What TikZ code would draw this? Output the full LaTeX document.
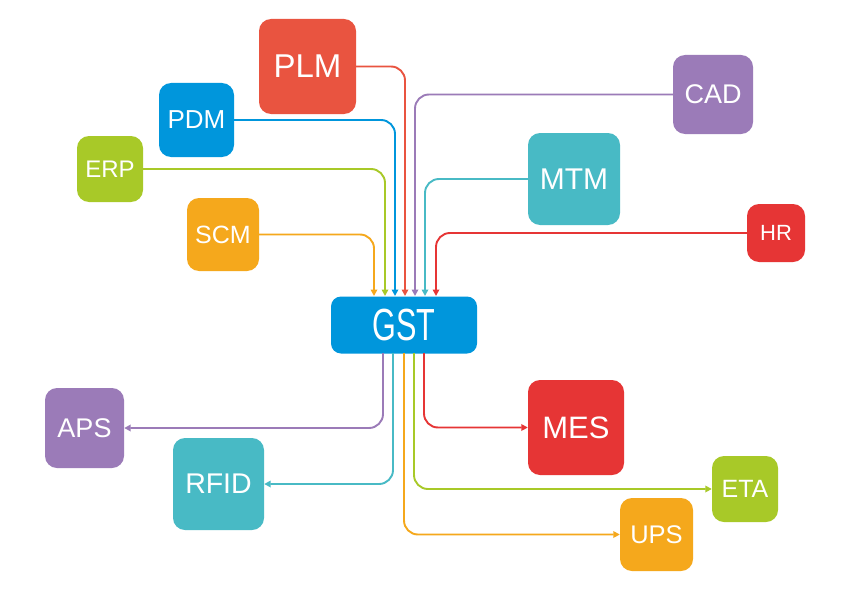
\documentclass[tikz,border=0pt]{standalone}
\usepackage{fontspec}
\setmainfont{Liberation Sans}
\usetikzlibrary{arrows.meta}
\definecolor{cplm}{HTML}{E95440}
\definecolor{cblue}{HTML}{0096DC}
\definecolor{cgreen}{HTML}{A8C928}
\definecolor{corange}{HTML}{F5A81C}
\definecolor{cpurple}{HTML}{9B7BB8}
\definecolor{cteal}{HTML}{48BAC5}
\definecolor{cred}{HTML}{E63535}
\tikzset{
  sys/.style={rounded corners=12pt, text=white, inner sep=0pt, anchor=center},
  conn/.style={line width=1.9pt, rounded corners=14pt, -{Triangle[length=6.5pt,width=6.5pt]}}
}
\newcommand{\sysbox}[7]{% name, cx, cy, w, h, colour, text+size
  \node[sys, fill=#6, minimum width=#4pt, minimum height=#5pt] (#1) at (#2,#3) {#7};}
\begin{document}
\begin{tikzpicture}[x=1pt,y=-1pt]
\useasboundingbox (0,0) rectangle (842,591);
\fill[white] (0,0) rectangle (842,591);

% boxes
\sysbox{PLM}{307.5}{66.5}{97}{95}{cplm}{\fontsize{33}{33}\selectfont PLM}
\sysbox{PDM}{196.5}{120}{75}{74}{cblue}{\fontsize{26}{26}\selectfont PDM}
\sysbox{ERP}{110}{169}{66}{66}{cgreen}{\fontsize{24}{24}\selectfont ERP}
\sysbox{SCM}{223}{234.5}{72}{73}{corange}{\fontsize{25}{25}\selectfont SCM}
\sysbox{CAD}{713}{94.5}{80}{79}{cpurple}{\fontsize{27}{27}\selectfont CAD}
\sysbox{MTM}{574}{179}{92}{92}{cteal}{\fontsize{30}{30}\selectfont MTM}
\sysbox{HR}{776}{233}{58}{58}{cred}{\fontsize{22}{22}\selectfont HR}
\sysbox{APS}{84.5}{428}{79}{80}{cpurple}{\fontsize{27}{27}\selectfont APS}
\sysbox{RFID}{218.5}{484}{91}{92}{cteal}{\fontsize{28.5}{28.5}\selectfont RFID}
\sysbox{MES}{576}{427.5}{96}{95}{cred}{\fontsize{31}{31}\selectfont MES}
\sysbox{ETA}{745}{489}{66}{66}{cgreen}{\fontsize{25}{25}\selectfont ETA}
\sysbox{UPS}{656.5}{534.5}{73}{73}{corange}{\fontsize{25.5}{25.5}\selectfont UPS}

\node[fill=cblue, rounded corners=10pt, minimum width=146pt, minimum height=57pt, inner sep=0pt, text=white] (GST) at (404,325)
  {\scalebox{0.68}[1]{\fontsize{45}{45}\selectfont GST}};

% entry points on GST top
\coordinate (iSCM) at (374,296);
\coordinate (iERP) at (385,296);
\coordinate (iPDM) at (395,296);
\coordinate (iPLM) at (405,296);
\coordinate (iCAD) at (415,296);
\coordinate (iMTM) at (425,296);
\coordinate (iHR)  at (436,296);
% exit points on GST bottom
\coordinate (oAPS)  at (383,353);
\coordinate (oRFID) at (393,353);
\coordinate (oUPS)  at (404,353);
\coordinate (oETA)  at (414,353);
\coordinate (oMES)  at (424,353);

% incoming
\draw[conn, cplm]    (PLM.east) -| (iPLM);
\draw[conn, cblue]   (PDM.east) -| (iPDM);
\draw[conn, cgreen]  (ERP.east) -| (iERP);
\draw[conn, corange] (SCM.east) -| (iSCM);
\draw[conn, cpurple] (CAD.west) -| (iCAD);
\draw[conn, cteal]   (MTM.west) -| (iMTM);
\draw[conn, cred]    (HR.west)  -| (iHR);

% outgoing
\draw[conn, cpurple] (oAPS)  |- (APS.east);
\draw[conn, cteal]   (oRFID) |- (RFID.east);
\draw[conn, corange] (oUPS)  |- (UPS.west);
\draw[conn, cgreen]  (oETA)  |- (ETA.west);
\draw[conn, cred]    (oMES)  |- (MES.west);
\end{tikzpicture}
\end{document}
